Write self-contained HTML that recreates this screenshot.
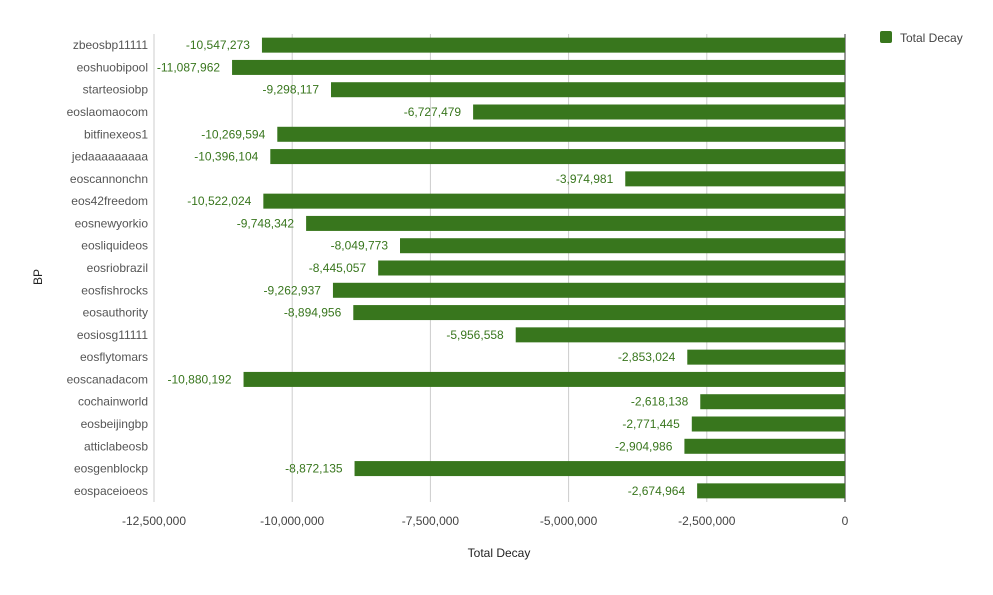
<!DOCTYPE html>
<html><head><meta charset="utf-8"><style>
body{margin:0;background:#fff;}
svg text{font-family:"Liberation Sans",sans-serif;}
</style></head><body>
<svg id="chart" width="993" height="590" xmlns="http://www.w3.org/2000/svg">
<rect width="993" height="590" fill="#fff"/>
<g id="grid"></g><g id="bars"></g><g id="labels"></g>
<text x="499" y="557" font-size="12" fill="#222" text-anchor="middle">Total Decay</text>
<text x="42" y="277" font-size="12" fill="#222" text-anchor="middle" transform="rotate(-90 42 277)">BP</text>
<g>
<rect x="880" y="31" width="12" height="12" rx="2" fill="#38761d"/>
<text x="900" y="42" font-size="12" fill="#444">Total Decay</text>
</g>
</svg>
<script>
const categories=["zbeosbp11111","eoshuobipool","starteosiobp","eoslaomaocom","bitfinexeos1","jedaaaaaaaaa","eoscannonchn","eos42freedom","eosnewyorkio","eosliquideos","eosriobrazil","eosfishrocks","eosauthority","eosiosg11111","eosflytomars","eoscanadacom","cochainworld","eosbeijingbp","atticlabeosb","eosgenblockp","eospaceioeos"];
const values=[-10547273,-11087962,-9298117,-6727479,-10269594,-10396104,-3974981,-10522024,-9748342,-8049773,-8445057,-9262937,-8894956,-5956558,-2853024,-10880192,-2618138,-2771445,-2904986,-8872135,-2674964];
const ticks=[-12500000,-10000000,-7500000,-5000000,-2500000,0];
const NS="http://www.w3.org/2000/svg";
const x0=845,x1=154,plotTop=34,plotBottom=502;
function xs(v){return x0+(v/12500000)*(x0-x1);}
const step=(plotBottom-plotTop)/categories.length;
function ys(i){return plotTop+step*(i+0.5);}
function mk(tag,attrs,parent){const e=document.createElementNS(NS,tag);for(const k in attrs)e.setAttribute(k,attrs[k]);document.getElementById(parent).appendChild(e);return e;}
const fmt=v=>v.toLocaleString('en-US');
ticks.forEach(t=>{
 const x=xs(t);
 const l=mk('line',{x1:x,x2:x,y1:plotTop,y2:plotBottom,stroke:t===0?'#333':'#ccc','stroke-width':1},'grid');
 
 
 const tx=mk('text',{x:x,y:525,'font-size':12,fill:'#444','text-anchor':'middle'},'grid');
 tx.textContent=fmt(t);
 
 
});
const ax=mk('line',{x1:x1,x2:x1,y1:plotTop,y2:plotBottom,stroke:'#ccc'},'grid');


categories.forEach((c,i)=>{
 const y=ys(i),v=values[i],bx=xs(v);
 const r=mk('rect',{x:bx,y:y-7.5,width:x0-bx,height:15,fill:'#38761d'},'bars');
 
 
 const t=mk('text',{x:148,y:y+4,'font-size':12,fill:'#555','text-anchor':'end'},'labels');
 t.textContent=c;
 
 
 const vl=mk('text',{x:bx-12,y:y+4,'font-size':12,fill:'#38761d','text-anchor':'end'},'labels');
 vl.textContent=fmt(v);
 
 
});
</script>
</body></html>
